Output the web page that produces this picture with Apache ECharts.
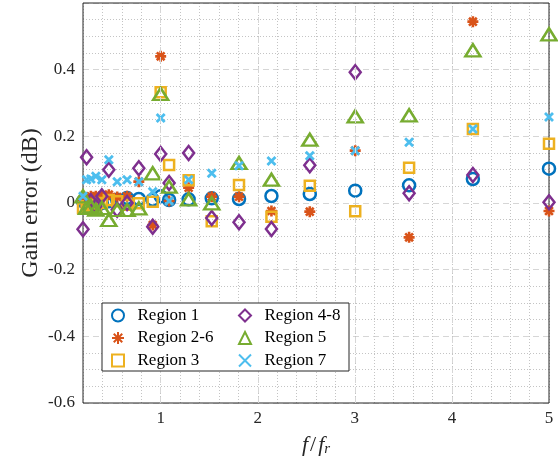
<!DOCTYPE html>
<html>
<head>
<meta charset="utf-8">
<script src="https://cdn.jsdelivr.net/npm/echarts@6/dist/echarts.min.js"></script>
<style>
  html, body { margin: 0; padding: 0; background: #ffffff; }
  #chart { width: 558px; height: 463px; }
</style>
</head>
<body>
<div id="chart"></div>
<script>
// Normalised frequency f/f_r of each measurement point
const freqRatio = [0.2, 0.237, 0.281, 0.332, 0.394, 0.466, 0.552, 0.654, 0.775, 0.918,
                   1.0, 1.087, 1.288, 1.526, 1.807, 2.141, 2.536, 3.004, 3.559, 4.216, 5.0];

// Gain error in dB for each region, one value per frequency point
const region1  = [0.005, 0.0, 0.005, 0.01, 0.0, 0.005, 0.01, 0.015, 0.012, 0.01,
                  0.02, 0.009, 0.011, 0.014, 0.012, 0.021, 0.027, 0.037, 0.053, 0.072, 0.103];
const region26 = [0.01, 0.015, 0.02, 0.02, 0.022, 0.025, 0.018, 0.02, 0.064, -0.066,
                  0.44, 0.006, 0.046, 0.019, 0.019, -0.024, -0.026, 0.157, -0.103, 0.544, -0.024];
const region3  = [-0.015, -0.01, -0.01, -0.005, 0.0, 0.009, 0.005, -0.005, -0.001, 0.004,
                  0.332, 0.114, 0.068, -0.055, 0.054, -0.041, 0.052, -0.025, 0.106, 0.222, 0.178];
const region48 = [-0.079, 0.137, 0.005, -0.01, 0.02, 0.1, -0.02, 0.0, 0.104, -0.071,
                  0.147, 0.06, 0.15, -0.045, -0.058, -0.078, 0.113, 0.392, 0.029, 0.084, 0.002];
const region5  = [0.02, -0.015, -0.01, -0.02, -0.015, -0.051, -0.021, -0.021, -0.016, 0.089,
                  0.327, 0.049, 0.011, -0.001, 0.12, 0.07, 0.19, 0.26, 0.263, 0.458, 0.506];
const region7  = [0.02, 0.07, 0.072, 0.08, 0.07, 0.13, 0.064, 0.07, 0.064, 0.034,
                  0.255, 0.006, 0.07, 0.089, 0.112, 0.126, 0.142, 0.157, 0.182, 0.222, 0.258];

const seriesNames = ['Region 1', 'Region 2-6', 'Region 3', 'Region 4-8', 'Region 5', 'Region 7'];
const xTickLabels = [1, 2, 3, 4, 5];

const SERIF = '"Liberation Serif", "DejaVu Serif", serif';
const INK = '#262626';

const asteriskPath = 'path://M6 0L6 12M0 6L12 6M1.76 1.76L10.24 10.24M10.24 1.76L1.76 10.24';
const crossPath = 'path://M0 0L10 10M10 0L0 10';

// Marker style for each region (MATLAB default colour order)
const markerStyles = [
  { symbol: 'circle',     size: 12,       color: '#0072BD', width: 2.5 },
  { symbol: asteriskPath, size: 11,       color: '#D95319', width: 2.6 },
  { symbol: 'rect',       size: 10,       color: '#EDB120', width: 2.5 },
  { symbol: 'diamond',    size: [11, 14], color: '#7E2F8E', width: 2.5 },
  { symbol: 'triangle',   size: [15, 12], color: '#77AC30', width: 2.5 },
  { symbol: crossPath,    size: 8,        color: '#4DBEEE', width: 2.8 }
];
const regionValues = [region1, region26, region3, region48, region5, region7];

const scatterSeries = regionValues.map((vals, k) => ({
  name: seriesNames[k],
  type: 'scatter',
  z: 3,
  symbol: markerStyles[k].symbol,
  symbolSize: markerStyles[k].size,
  itemStyle: {
    opacity: 1,
    color: 'rgba(0,0,0,0)',
    borderColor: markerStyles[k].color,
    borderWidth: markerStyles[k].width
  },
  emphasis: { disabled: true },
  data: freqRatio.map((f, i) => [f, vals[i]])
}));

// Dashed major grid lines along x (integer f/f_r)
const majorGrid = {
  type: 'line',
  z: 1,
  silent: true,
  data: [],
  markLine: {
    silent: true,
    symbol: 'none',
    label: { show: false },
    lineStyle: { color: '#d6d6d6', width: 1, type: [6, 4] },
    data: xTickLabels.slice(0, -1).map(v => ({ xAxis: v }))
  }
};

const legendCommon = {
  orient: 'vertical',
  padding: 0,
  itemWidth: 12,
  itemHeight: 12,
  itemGap: 5.5,
  selectedMode: false,
  z: 10,
  formatter: name => '\u2002' + name,
  textStyle: { fontFamily: SERIF, fontSize: 17, color: '#000' }
};

const option = {
  animation: false,
  backgroundColor: '#ffffff',
  grid: {
    left: 83, right: 9, top: 3, bottom: 60, z: 1,
    show: true, borderColor: INK, borderWidth: 1, backgroundColor: 'transparent'
  },
  xAxis: {
    type: 'value',
    min: 0.2, max: 5, interval: 0.2,
    axisLine: { show: false },
    axisTick: { show: false },
    axisLabel: {
      margin: 7,
      fontFamily: SERIF, fontSize: 17, color: INK,
      formatter: v => {
        const r = Math.round(v);
        return (Math.abs(v - r) < 1e-6 && xTickLabels.includes(r)) ? String(r) : '';
      }
    },
    splitLine: { show: true, lineStyle: { color: '#c4c4c4', width: 1, type: [1, 2] } },
    name: '{i|f}{n|/}{i|f}{s|r}',
    nameLocation: 'middle',
    nameGap: 30,
    nameTextStyle: {
      rich: {
        i: { fontFamily: SERIF, fontStyle: 'italic', fontSize: 22, color: INK },
        n: { fontFamily: SERIF, fontSize: 22, color: INK, padding: [0, 2, 0, 2] },
        s: { fontFamily: SERIF, fontStyle: 'italic', fontSize: 15, color: INK, padding: [9, 0, 0, 0] }
      }
    }
  },
  yAxis: {
    type: 'value',
    min: -0.6, max: 0.6, interval: 0.2,
    axisLine: { show: false },
    axisTick: { show: false },
    axisLabel: {
      margin: 8, showMaxLabel: false,
      fontFamily: SERIF, fontSize: 17, color: INK,
      formatter: v => (Math.abs(v) < 1e-9 ? '0' : (+v.toFixed(1)).toString())
    },
    splitLine: { show: true, lineStyle: { color: '#d6d6d6', width: 1, type: [6, 4] } },
    minorTick: { show: false, splitNumber: 4 },
    minorSplitLine: { show: true, lineStyle: { color: '#c4c4c4', width: 1, type: [1, 2] } },
    name: 'Gain error (dB)',
    nameLocation: 'middle',
    nameRotate: 90,
    nameGap: 40,
    nameMoveOverlap: false,
    nameTextStyle: { fontFamily: SERIF, fontSize: 24, color: INK }
  },
  legend: [
    Object.assign({}, legendCommon, { left: 111, top: 307, data: seriesNames.slice(0, 3) }),
    Object.assign({}, legendCommon, { left: 238, top: 307, data: seriesNames.slice(3) })
  ],
  graphic: [{
    type: 'rect',
    z: 9,
    shape: { x: 102, y: 303, width: 247, height: 68 },
    style: { fill: '#ffffff', stroke: INK, lineWidth: 1 }
  }],
  series: [majorGrid].concat(scatterSeries)
};

const chart = echarts.init(document.getElementById('chart'), null, { renderer: 'canvas' });
chart.setOption(option);
</script>
</body>
</html>
